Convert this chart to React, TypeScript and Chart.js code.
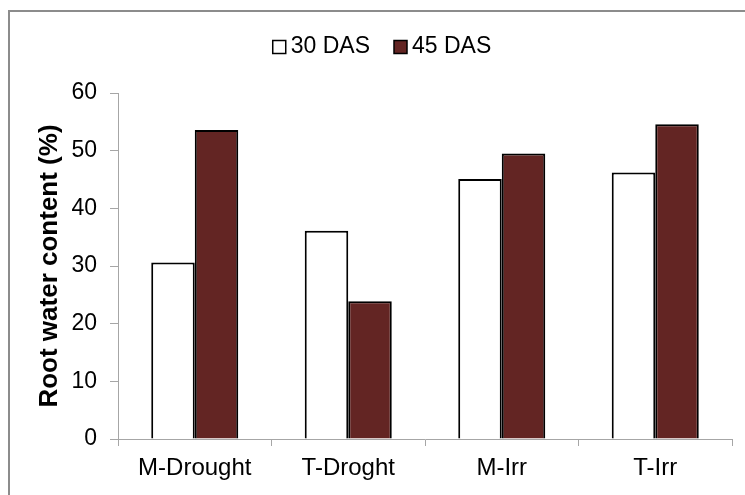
import React, { useEffect, useRef } from "react";
import { Chart, registerables } from "chart.js";

Chart.register(...registerables);

const categories = ["M-Drought", "T-Droght", "M-Irr", "T-Irr"];
const series30 = [30.6, 36.1, 45.1, 46.2];
const series45 = [53.6, 23.9, 49.5, 54.6];
const seriesLabels = ["30 DAS", "45 DAS"];
const seriesFill = ["#ffffff", "#632523"];
const yTitle = "Root water content (%)";

const FONT = "'Liberation Sans', Arial, sans-serif";

const framePlugin = {
  id: "frame",
  beforeDraw(chart: any) {
    const ctx = chart.ctx;
    ctx.save();
    ctx.fillStyle = "#ffffff";
    ctx.fillRect(0, 0, chart.width, chart.height);
    ctx.strokeStyle = "#8c8c8c";
    ctx.lineWidth = 2;
    ctx.strokeRect(9, 11, chart.width + 20, chart.height + 20);
    ctx.restore();
  },
};

const legendPlugin = {
  id: "customLegend",
  afterDraw(chart: any) {
    const ctx = chart.ctx;
    ctx.save();
    ctx.font = `23px ${FONT}`;
    ctx.textBaseline = "middle";
    ctx.fillStyle = "#000";
    const box = 13;
    const gapBoxText = 5;
    const gapItems = 24;
    const items = chart.data.datasets.map((d: any) => ({
      label: d.label,
      fill: d.backgroundColor,
      w: ctx.measureText(d.label).width,
    }));
    const total =
      items.reduce((s: number, it: any) => s + box + gapBoxText + it.w, 0) +
      gapItems * (items.length - 1);
    let x = 382 - total / 2;
    const cy = 47;
    items.forEach((it: any) => {
      ctx.fillStyle = it.fill;
      ctx.fillRect(x, cy - box / 2, box, box);
      ctx.strokeStyle = "#000";
      ctx.lineWidth = 1.5;
      ctx.strokeRect(x, cy - box / 2, box, box);
      ctx.fillStyle = "#000";
      ctx.fillText(it.label, x + box + gapBoxText, cy);
      x += box + gapBoxText + it.w + gapItems;
    });
    ctx.restore();
  },
};

export default function App() {
  const ref = useRef<HTMLCanvasElement>(null);

  useEffect(() => {
    if (!ref.current) return;
    const chart = new Chart(ref.current, {
      type: "bar",
      data: {
        labels: categories,
        datasets: [
          {
            label: seriesLabels[0],
            data: series30,
            backgroundColor: seriesFill[0],
            borderColor: "#000",
            borderWidth: 2,
            categoryPercentage: 0.567,
            barPercentage: 1,
          },
          {
            label: seriesLabels[1],
            data: series45,
            backgroundColor: seriesFill[1],
            borderColor: "#000",
            borderWidth: 2,
            categoryPercentage: 0.567,
            barPercentage: 1,
          },
        ],
      },
      options: {
        responsive: false,
        animation: false,
        devicePixelRatio: 1,
        layout: { padding: { top: 93, right: 13, left: 0, bottom: 0 } },
        plugins: {
          legend: { display: false },
          tooltip: { enabled: false },
        },
        scales: {
          x: {
            grid: {
              drawOnChartArea: false,
              tickLength: 7,
              color: "#a6a6a6",
              offset: true,
            },
            border: { color: "#a6a6a6", width: 1 },
            ticks: {
              color: "#000",
              font: { family: FONT, size: 24 },
              padding: 8,
              maxRotation: 0,
            },
            afterFit(scale: any) {
              scale.height = 56;
            },
          },
          y: {
            min: 0,
            max: 60,
            grid: {
              drawOnChartArea: false,
              tickLength: 8,
              color: "#a6a6a6",
            },
            border: { color: "#a6a6a6", width: 1 },
            ticks: {
              stepSize: 10,
              color: "#000",
              font: { family: FONT, size: 23 },
              padding: 13,
            },
            title: {
              display: true,
              text: yTitle,
              color: "#000",
              font: { family: FONT, size: 26, weight: "bold" },
              padding: { top: 34, bottom: 0 },
            },
            afterFit(scale: any) {
              scale.width = 118;
            },
          },
        },
      },
      plugins: [framePlugin, legendPlugin],
    });
    return () => chart.destroy();
  }, []);

  return (
    <div style={{ position: "absolute", left: 0, top: 0, width: 745, height: 495, background: "#fff" }}>
      <canvas ref={ref} width={745} height={495} style={{ display: "block" }} />
    </div>
  );
}
